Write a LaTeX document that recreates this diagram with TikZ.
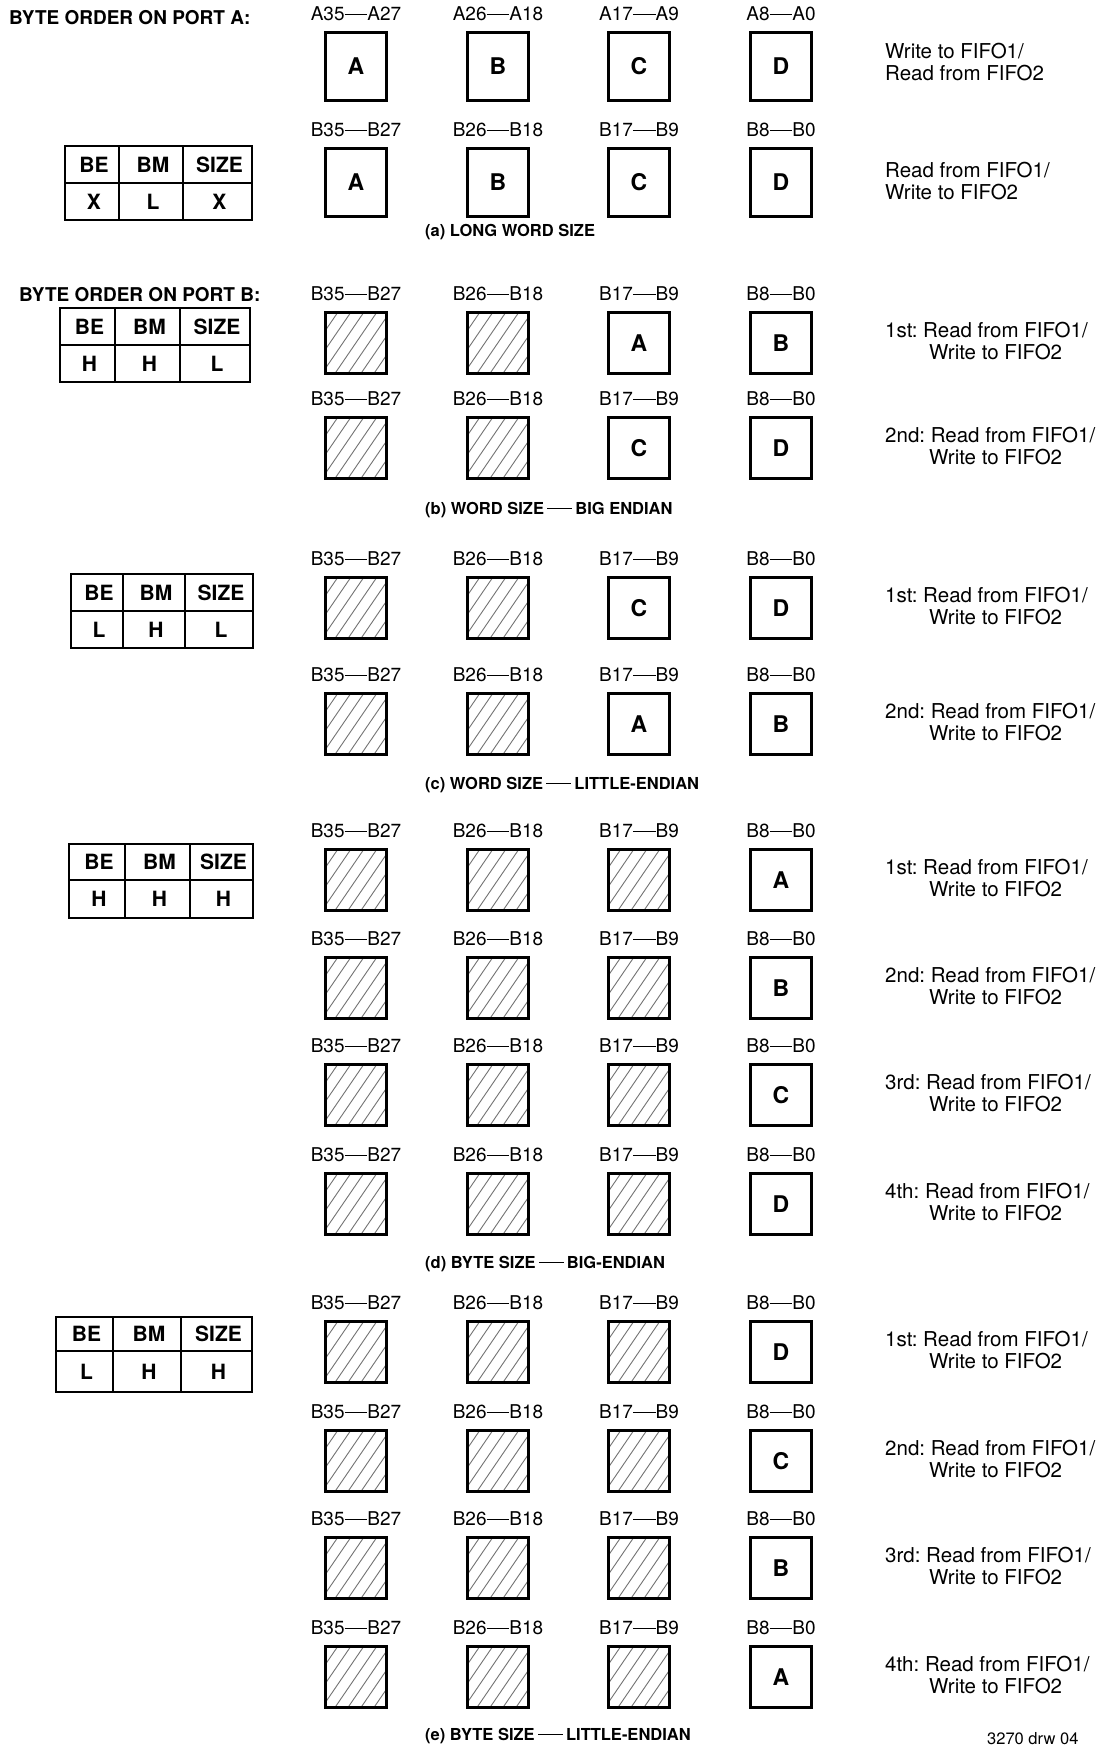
\documentclass[tikz,border=0pt]{standalone}
\usepackage{fontspec}
\setmainfont{TeX Gyre Heros}
\frenchspacing
\newcommand\dsh{\rule[0.3em]{1.2em}{0.08em}}
\newcommand\capdsh{\hspace{0.2em}\rule[0.3em]{1.5em}{0.07em}\hspace{0.2em}}
\tikzset{
  bx/.style={draw, line width=3.3pt, minimum width=61pt, minimum height=61.5pt, inner sep=0pt, anchor=north, font=\fontsize{23}{23}\selectfont\bfseries},
  hatchline/.style={draw=black!55, line width=0.9pt},
  hx/.style={bx, path picture={\foreach \k in {-8,...,8} \draw[hatchline] ([xshift=\k*13pt-24pt, yshift=-4pt]path picture bounding box.south) -- ++(52pt,76pt);}},
  lbl/.style={inner sep=0pt, font=\fontsize{19}{19}\selectfont},
  rt/.style={inner sep=0pt, anchor=base west, font=\fontsize{20.5}{20.5}\selectfont},
  captxt/.style={inner sep=0pt, anchor=base west, font=\fontsize{16.5}{16.5}\selectfont\bfseries},
  hdr/.style={inner sep=0pt, anchor=west, font=\fontsize{19}{19}\selectfont\bfseries},
  tline/.style={line width=1.8pt},
  tcell/.style={inner sep=0pt, font=\fontsize{21}{21}\selectfont\bfseries},
}
% one byte cell: name, x, top, min height, content (empty = hatched)
\newcommand\onecell[5]{%
  \if\relax\detokenize{#5}\relax
    \node[hx, minimum height=#4] (#1) at (#2,#3+1.65) {};%
  \else
    \node[bx, minimum height=#4] (#1) at (#2,#3+1.65) {#5};%
  \fi}
\newcommand\onelbl[4]{\node[lbl] (#1) at (#2,#3-15) {#4};}
% row: name, top, min height, prefix letter, four contents
\newcommand\brow[8]{%
  \onelbl{#1l1}{356}{#2}{#435\dsh #427}
  \onelbl{#1l2}{498}{#2}{#426\dsh #418}
  \onelbl{#1l3}{639}{#2}{#417\dsh #49}
  \onelbl{#1l4}{781}{#2}{#48\dsh #40}
  \onecell{#1c1}{356}{#2}{#3}{#5}
  \onecell{#1c2}{498}{#2}{#3}{#6}
  \onecell{#1c3}{639}{#2}{#3}{#7}
  \onecell{#1c4}{781}{#2}{#3}{#8}}
% right text: name, center y, line1, line2, x of line2
\newcommand\rtext[5]{%
  \node[rt] (#1a) at (885,#2-3.6) {#3};
  \node[rt] (#1b) at (#5,#2+18.4) {#4};}
% table
\newcommand\sigtab[8]{%
  \def\tN{#1}\def\tXa{#2}\def\tXb{#3}\def\tXc{#4}\def\tXd{#5}\def\tYa{#6}\def\tYb{#7}\def\tYc{#8}%
  \sigtabvals}
\newcommand\sigtabvals[3]{%
  \draw[tline] (\tXa,\tYa) rectangle (\tXd,\tYc);
  \draw[tline] (\tXa,\tYb) -- (\tXd,\tYb) (\tXb,\tYa) -- (\tXb,\tYc) (\tXc,\tYa) -- (\tXc,\tYc);
  \node[tcell] (\tN h1) at ({(\tXa+\tXb)/2+2},{(\tYa+\tYb)/2}) {BE};
  \node[tcell] (\tN h2) at ({(\tXb+\tXc)/2+2},{(\tYa+\tYb)/2}) {BM};
  \node[tcell] (\tN h3) at ({(\tXc+\tXd)/2+2},{(\tYa+\tYb)/2}) {SIZE};
  \node[tcell] (\tN v1) at ({(\tXa+\tXb)/2+2},{(\tYb+\tYc)/2}) {#1};
  \node[tcell] (\tN v2) at ({(\tXb+\tXc)/2+2},{(\tYb+\tYc)/2}) {#2};
  \node[tcell] (\tN v3) at ({(\tXc+\tXd)/2+2},{(\tYb+\tYc)/2}) {#3};}
\begin{document}
\begin{tikzpicture}[x=1pt,y=-1pt]
\useasboundingbox[fill=white] (0,0) rectangle (1105,1746);
% headers
\node[hdr] (hdrA) at (9,18) {BYTE ORDER ON PORT A:};
\node[hdr] (hdrB) at (19,295) {BYTE ORDER ON PORT B:};
% (a)
\brow{a1}{29}{68.5}{A}{A}{B}{C}{D}
\brow{a2}{145}{68.5}{B}{A}{B}{C}{D}
\rtext{ra1}{62}{Write to FIFO1/}{Read from FIFO2}{885}
\rtext{ra2}{181}{Read from FIFO1/}{Write to FIFO2}{885}
\sigtab{ta}{65}{119}{183}{252}{146}{183}{220}{X}{L}{X}
\node[captxt] (capa) at (425,236) {(a) LONG WORD SIZE};
% (b)
\brow{b1}{309}{61.5}{B}{}{}{A}{B}
\brow{b2}{414}{61.5}{B}{}{}{C}{D}
\rtext{rb1}{341.5}{1st: Read from FIFO1/}{Write to FIFO2}{929}
\rtext{rb2}{446.5}{2nd: Read from FIFO1/}{Write to FIFO2}{929}
\sigtab{tb}{60}{115}{180}{250}{308}{345}{382}{H}{H}{L}
\node[captxt] (capb) at (425,514) {(b) WORD SIZE\capdsh BIG ENDIAN};
% (c)
\brow{c1}{574}{61.5}{B}{}{}{C}{D}
\brow{c2}{690}{61.5}{B}{}{}{A}{B}
\rtext{rc1}{606.5}{1st: Read from FIFO1/}{Write to FIFO2}{929}
\rtext{rc2}{722.5}{2nd: Read from FIFO1/}{Write to FIFO2}{929}
\sigtab{tc}{71}{123}{185}{253}{574}{611}{648}{L}{H}{L}
\node[captxt] (capc) at (425,789) {(c) WORD SIZE\capdsh LITTLE-ENDIAN};
% (d)
\brow{d1}{846}{61.5}{B}{}{}{}{A}
\brow{d2}{954}{61.5}{B}{}{}{}{B}
\brow{d3}{1061}{61.5}{B}{}{}{}{C}
\brow{d4}{1170}{61.5}{B}{}{}{}{D}
\rtext{rd1}{878.5}{1st: Read from FIFO1/}{Write to FIFO2}{929}
\rtext{rd2}{986.5}{2nd: Read from FIFO1/}{Write to FIFO2}{929}
\rtext{rd3}{1093.5}{3rd: Read from FIFO1/}{Write to FIFO2}{929}
\rtext{rd4}{1202.5}{4th: Read from FIFO1/}{Write to FIFO2}{929}
\sigtab{td}{69}{125}{190}{253}{844}{880}{918}{H}{H}{H}
\node[captxt] (capd) at (425,1268) {(d) BYTE SIZE\capdsh BIG-ENDIAN};
% (e)
\brow{e1}{1318}{61.5}{B}{}{}{}{D}
\brow{e2}{1427}{61.5}{B}{}{}{}{C}
\brow{e3}{1534}{61.5}{B}{}{}{}{B}
\brow{e4}{1643}{61.5}{B}{}{}{}{A}
\rtext{re1}{1350.5}{1st: Read from FIFO1/}{Write to FIFO2}{929}
\rtext{re2}{1459.5}{2nd: Read from FIFO1/}{Write to FIFO2}{929}
\rtext{re3}{1566.5}{3rd: Read from FIFO1/}{Write to FIFO2}{929}
\rtext{re4}{1675.5}{4th: Read from FIFO1/}{Write to FIFO2}{929}
\sigtab{te}{56}{113}{181}{252}{1317}{1351}{1392}{L}{H}{H}
\node[captxt] (cape) at (425,1740) {(e) BYTE SIZE\capdsh LITTLE-ENDIAN};
\node[inner sep=0pt, anchor=base west, font=\fontsize{16.5}{16.5}\selectfont] (drw) at (987,1744) {3270 drw 04};
\end{tikzpicture}
\end{document}
